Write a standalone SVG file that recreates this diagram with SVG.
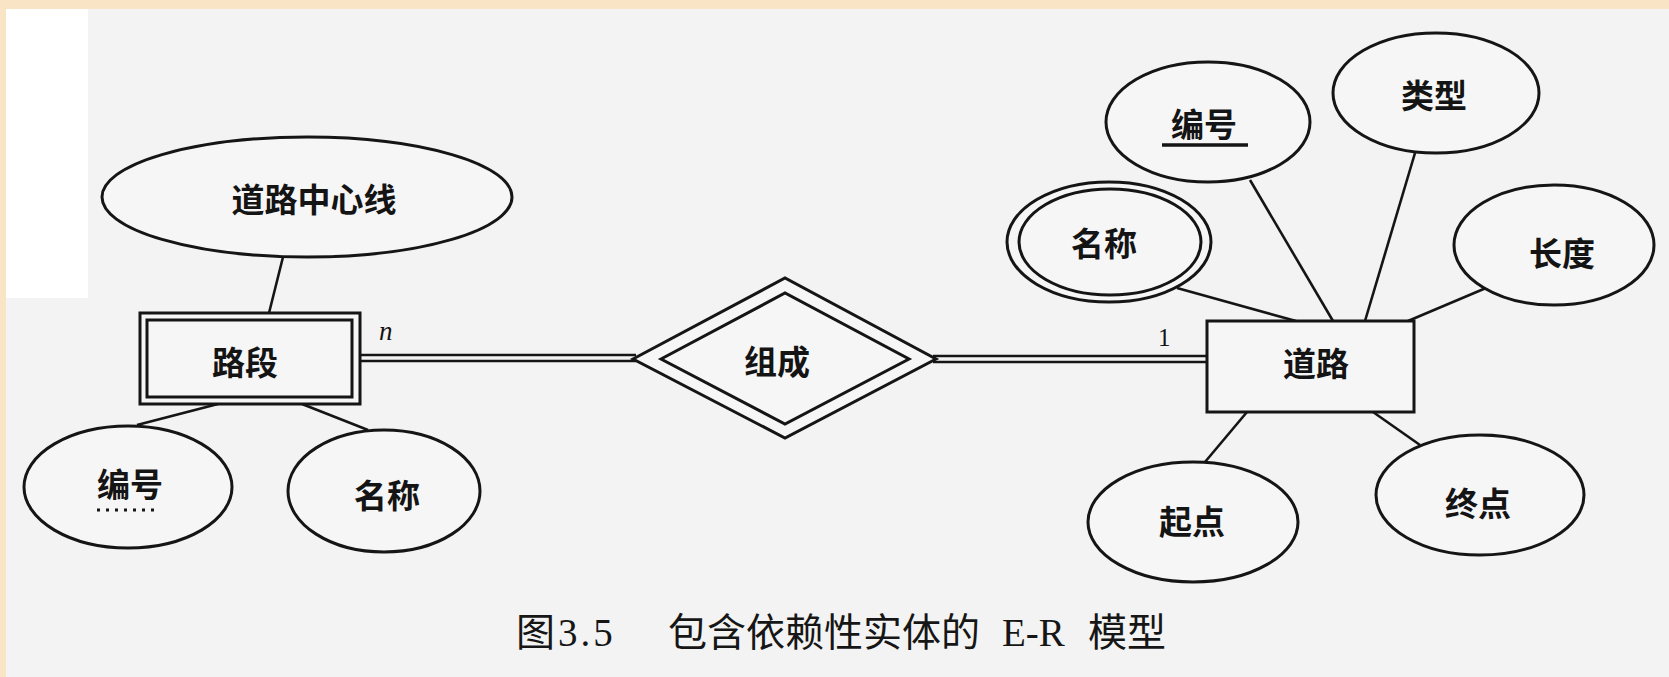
<svg xmlns="http://www.w3.org/2000/svg" width="1669" height="677" viewBox="0 0 1669 677">
<style>
.shape{fill:none;stroke:#151515;stroke-width:3}
.fillw{fill:#f6f6f6;stroke:#151515;stroke-width:3}
.lbl{font-family:"Noto Sans CJK SC","Noto Sans",sans-serif;font-weight:700;font-size:33px;fill:#141414;text-anchor:middle}
.conn{stroke:#151515;stroke-width:2.6;fill:none}
.card{font-family:"Liberation Serif",serif;fill:#141414}
.cap{font-family:"Liberation Serif","Noto Sans CJK SC",serif;font-size:39px;fill:#161616}
</style>
<rect x="0" y="0" width="1669" height="677" fill="#f9e4c6"/>
<rect x="6" y="9" width="1663" height="668" fill="#f3f3f3"/>
<rect x="6" y="9" width="82" height="289" fill="#ffffff"/>
<g id="connectors">
<line class="conn" x1="283" y1="257" x2="269" y2="313"/>
<line class="conn" x1="137" y1="425" x2="218" y2="404"/>
<line class="conn" x1="368" y1="430" x2="302" y2="404"/>
<line class="conn" x1="361" y1="355" x2="636" y2="355"/>
<line class="conn" x1="361" y1="361" x2="636" y2="361"/>
<line class="conn" x1="933" y1="356" x2="1207" y2="356"/>
<line class="conn" x1="933" y1="362" x2="1207" y2="362"/>
<line class="conn" x1="1250" y1="180" x2="1333" y2="321"/>
<line class="conn" x1="1415" y1="153" x2="1365" y2="321"/>
<line class="conn" x1="1486" y1="288" x2="1408" y2="321"/>
<line class="conn" x1="1177" y1="288" x2="1296" y2="321"/>
<line class="conn" x1="1205" y1="462" x2="1247" y2="412"/>
<line class="conn" x1="1420" y1="445" x2="1373" y2="412"/>
<text class="card" x="379" y="340" font-size="27" font-style="italic">n</text>
<text class="card" x="1158" y="346" font-size="25">1</text>
</g>
<g id="node-daoluzhongxinxian">
<ellipse class="fillw" cx="307" cy="197" rx="205" ry="60"/>
<text class="lbl" x="314" y="212">道路中心线</text>
</g>
<g id="node-luduan">
<rect class="fillw" x="140" y="313" width="220" height="91"/>
<rect class="shape" x="147" y="320" width="205" height="77"/>
<text class="lbl" x="245" y="375">路段</text>
</g>
<g id="node-bianhao-left">
<ellipse class="fillw" cx="128" cy="487" rx="104" ry="61"/>
<text class="lbl" x="130" y="497">编号</text>
<line x1="97" y1="510" x2="158" y2="510" stroke="#151515" stroke-width="3" stroke-dasharray="3 6"/>
</g>
<g id="node-mingcheng-left">
<ellipse class="fillw" cx="384" cy="491" rx="96" ry="61"/>
<text class="lbl" x="387" y="508">名称</text>
</g>
<g id="node-zucheng">
<polygon class="fillw" points="633,359 785,278 936,359 785,438"/>
<polygon class="shape" points="661,359 785,293 909,359 785,424"/>
<text class="lbl" x="777" y="374">组成</text>
</g>
<g id="node-daolu">
<rect class="fillw" x="1207" y="321" width="207" height="91"/>
<text class="lbl" x="1316" y="376">道路</text>
</g>
<g id="node-bianhao-right">
<ellipse class="fillw" cx="1208" cy="122" rx="102" ry="60"/>
<text class="lbl" x="1204" y="137">编号</text>
<line x1="1162" y1="145" x2="1248" y2="145" stroke="#151515" stroke-width="3.5"/>
</g>
<g id="node-leixing">
<ellipse class="fillw" cx="1436" cy="93" rx="103" ry="60"/>
<text class="lbl" x="1434" y="108">类型</text>
</g>
<g id="node-changdu">
<ellipse class="fillw" cx="1554" cy="245" rx="100" ry="60"/>
<text class="lbl" x="1562" y="266">长度</text>
</g>
<g id="node-mingcheng-right">
<ellipse class="fillw" cx="1109" cy="242" rx="102" ry="60"/>
<ellipse class="shape" cx="1110" cy="242" rx="91" ry="53"/>
<text class="lbl" x="1104" y="256">名称</text>
</g>
<g id="node-qidian">
<ellipse class="fillw" cx="1193" cy="522" rx="105" ry="60"/>
<text class="lbl" x="1192" y="534">起点</text>
</g>
<g id="node-zhongdian">
<ellipse class="fillw" cx="1480" cy="495" rx="104" ry="60"/>
<text class="lbl" x="1478" y="516">终点</text>
</g>
<g id="caption">
<text class="cap" x="516" y="646">图</text>
<text class="cap" x="558" y="646" letter-spacing="3">3.5</text>
<text class="cap" x="668" y="646">包含依赖性实体的</text>
<text class="cap" x="1002" y="646">E-R</text>
<text class="cap" x="1088" y="646">模型</text>
</g>
</svg>
